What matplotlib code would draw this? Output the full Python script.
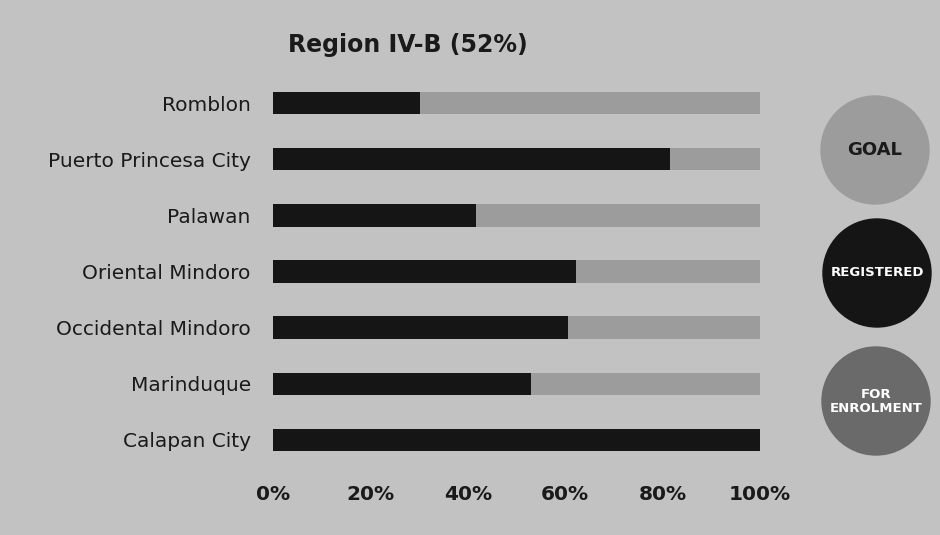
import matplotlib
matplotlib.use("Agg")
import matplotlib.pyplot as plt
from matplotlib.patches import Circle

categories = ["Romblon", "Puerto Princesa City", "Palawan", "Oriental Mindoro",
              "Occidental Mindoro", "Marinduque", "Calapan City"]
registered = [30.2, 81.6, 41.6, 62.3, 60.6, 53.0, 100.0]
goal = [100, 100, 100, 100, 100, 100, 100]
xticks = [0, 20, 40, 60, 80, 100]
xtick_labels = ["0%", "20%", "40%", "60%", "80%", "100%"]
title = "Region IV-B (52%)"
legend_labels = ["GOAL", "REGISTERED", "FOR\nENROLMENT"]

BG = "#c2c2c2"
GOAL_C = "#9c9c9c"
REG_C = "#151515"
ENR_C = "#6a6a6a"
TXT = "#1a1a1a"

plt.rcParams['font.family'] = ['DejaVu Sans']

W, H = 940, 535
fig = plt.figure(figsize=(W / 100, H / 100), dpi=100)
fig.patch.set_facecolor(BG)

left, right = 273, 760
top, bottom = 75, 468
ax = fig.add_axes([left / W, 1 - bottom / H, (right - left) / W, (bottom - top) / H])
ax.set_facecolor("none")

y = list(range(len(categories)))
ax.barh(y, goal, height=0.4, color=GOAL_C, zorder=1)
ax.barh(y, registered, height=0.4, color=REG_C, zorder=2)
ax.set_xlim(0, 100)
ax.set_ylim(len(categories) - 0.5, -0.5)
ax.set_yticks(y)
ax.set_yticklabels(categories, fontsize=14.5, color=TXT)
ax.set_xticks(xticks)
ax.set_xticklabels(xtick_labels, fontsize=14.5, fontweight="bold", color=TXT)
ax.tick_params(axis="y", length=0, pad=16)
ax.tick_params(axis="x", length=0, pad=12)
for s in ax.spines.values():
    s.set_visible(False)

fig.text(408 / W, 1 - 45 / H, title, ha="center", va="center",
         fontsize=17, fontweight="bold", color=TXT)

# legend circles in pixel coordinates
lax = fig.add_axes([0, 0, 1, 1])
lax.set_xlim(0, W)
lax.set_ylim(H, 0)
lax.axis("off")
lax.patch.set_alpha(0)
centers = [(875, 150), (877, 273), (876, 401)]
colors = [GOAL_C, REG_C, ENR_C]
tcolors = [TXT, "white", "white"]
tsizes = [13, 9.5, 9.5]
for (cx, cy), c, lab, tc, ts in zip(centers, colors, legend_labels, tcolors, tsizes):
    lax.add_patch(Circle((cx, cy), 54, color=c, zorder=1))
    lax.text(cx, cy, lab, ha="center", va="center", color=tc, fontsize=ts,
             fontweight="bold", linespacing=1.1, zorder=2)

fig.savefig("out.png", dpi=100, facecolor=BG)
